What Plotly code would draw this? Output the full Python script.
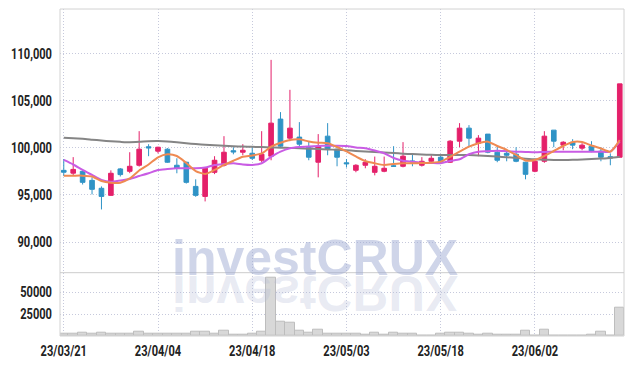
import plotly.graph_objects as go

dates = ["23/03/21","23/03/22","23/03/23","23/03/24","23/03/27","23/03/28","23/03/29","23/03/30","23/03/31",
         "23/04/03","23/04/04","23/04/05","23/04/06","23/04/07","23/04/10","23/04/11","23/04/12","23/04/13",
         "23/04/14","23/04/17","23/04/18","23/04/19","23/04/20","23/04/21","23/04/24","23/04/25","23/04/26",
         "23/04/27","23/04/28","23/05/02","23/05/03","23/05/04","23/05/08","23/05/09","23/05/10","23/05/11",
         "23/05/12","23/05/15","23/05/16","23/05/17","23/05/18","23/05/19","23/05/22","23/05/23","23/05/24",
         "23/05/25","23/05/26","23/05/30","23/05/31","23/06/01","23/06/02","23/06/05","23/06/07","23/06/08",
         "23/06/09","23/06/12","23/06/13","23/06/14","23/06/15","23/06/16"]

open_ = [97600, 97300, 97500, 96540, 95700, 94950, 97750, 97500, 98140, 100100,
         99630, 99840, 98140, 98460, 95900, 94840, 97390, 98140, 99680, 99520,
         99410, 98670, 99100, 103030, 101010, 101120, 100050, 98460, 101220, 99840,
         98400, 97610, 98140, 97390, 97500, 98080, 98030, 98600, 98140, 98560,
         98990, 98460, 100690, 102070, 100480, 101440, 99520, 99410, 99310, 98460,
         97500, 98560, 101860, 100270, 100580, 99950, 100160, 99630, 99050, 98990]
high = [98800, 99000, 97600, 96860, 95900, 97600, 97850, 99520, 101750, 100370,
        100100, 99950, 98880, 98500, 96650, 97900, 99100, 101220, 100050, 100370,
        100160, 101750, 109300, 103770, 106130, 102710, 100690, 101440, 102600, 99900,
        98800, 98250, 98780, 99060, 99060, 100160, 100590, 99300, 99000, 99200,
        99300, 100800, 102600, 102390, 101330, 101440, 100160, 99630, 100050, 98500,
        98600, 101750, 101860, 100690, 100900, 100480, 100690, 100050, 99400, 106760]
low = [97000, 97100, 96100, 95050, 93460, 94900, 96950, 97300, 98000, 99100,
       99400, 98400, 97290, 96200, 94800, 94310, 97200, 98000, 99300, 99200,
       98700, 98460, 98670, 100000, 100690, 99950, 98670, 96860, 99200, 98030,
       97900, 97400, 97820, 97070, 97400, 98000, 97920, 98030, 98000, 98400,
       98400, 98400, 100050, 100160, 99100, 99410, 98460, 98560, 98460, 96650,
       97400, 98400, 100050, 99730, 99840, 99730, 99520, 98560, 98140, 98990]
close = [97400, 97700, 96330, 95590, 94840, 97290, 97150, 98030, 99840, 99980,
         100050, 98460, 97820, 96330, 94950, 97820, 98670, 99520, 99550, 99730,
         98880, 99310, 102600, 100160, 102070, 100370, 98990, 100160, 99840, 98990,
         98300, 98140, 98460, 98030, 97820, 98030, 99100, 98500, 98560, 98880,
         98460, 100690, 102070, 101010, 101010, 99520, 98670, 99200, 98560, 97180,
         98560, 101220, 100690, 100580, 100270, 100270, 99630, 98990, 98900, 106760]

volume = [2600, 3000, 4200, 3000, 4200, 3000, 2300, 3000, 5300, 3000,
          3000, 2300, 2300, 3000, 5300, 5300, 3000, 6000, 1500, 1500,
          2600, 4900, 66300, 16300, 15100, 6000, 3800, 7200, 3000, 3000,
          3000, 2300, 1500, 3800, 1500, 3800, 3000, 2300, 700, 700,
          2500, 4000, 4000, 2600, 1500, 2600, 1300, 1300, 1300, 5700,
          700, 6800, 500, 500, 500, 500, 1300, 4500, 500, 31800]

ma_short = [97040, 97040, 97040, 96950, 96470, 96290, 96290, 96740, 97590, 98220,
            98980, 99300, 99120, 98380, 97530, 97220, 97640, 98170, 98620, 99050,
            99170, 99390, 100110, 100530, 100820, 100890, 100660, 100530, 100470, 100070,
            99600, 99070, 98590, 98350, 98170, 98270, 98350, 98350, 98380, 98410,
            98520, 99020, 99580, 100110, 100470, 100640, 100180, 99760, 99230, 98650,
            98700, 99120, 99650, 100180, 100600, 100600, 100230, 99920, 99580, 100800]
ma_mid = [98700, 98220, 97640, 97110, 96580, 96400, 96530, 96690, 97000, 97290,
          97640, 97740, 97820, 97820, 97820, 97900, 98170, 98270, 98350, 98220,
          98170, 98350, 99020, 99580, 99940, 100070, 100130, 100180, 100210, 100210,
          100180, 100020, 99940, 99700, 99410, 98910, 98620, 98520, 98410, 98380,
          98350, 98590, 98770, 99300, 99580, 99630, 99680, 99630, 99580, 99550,
          99510, 99550, 99580, 99580, 99580, 99580, 99580, 99580, 99580, 100640]
ma_long = [101060, 101000, 100940, 100850, 100760, 100680, 100620, 100580, 100620, 100680,
           100700, 100660, 100580, 100480, 100380, 100300, 100250, 100200, 100150, 100120,
           100090, 100060, 100030, 100000, 99970, 99940, 99900, 99860, 99820, 99770,
           99720, 99660, 99600, 99540, 99480, 99430, 99370, 99320, 99280, 99250,
           99230, 99230, 99230, 99220, 99180, 99130, 99060, 98990, 98920, 98840,
           98770, 98730, 98700, 98700, 98710, 98740, 98790, 98850, 98920, 99050]

price_ticks = [90000, 95000, 100000, 105000, 110000]
volume_ticks = [25000, 50000]
date_ticks = dates[::10]

UP = "#e4206a"
DOWN = "#2f93c6"
GRID = "#c6c9dc"
DOTS = "1px,2px"
FONT = "Roboto"
SPLIT = 0.1936

fig = go.Figure()
fig.add_trace(go.Candlestick(
    x=dates, open=open_, high=high, low=low, close=close,
    increasing=dict(line=dict(color=UP, width=1), fillcolor=UP),
    decreasing=dict(line=dict(color=DOWN, width=1), fillcolor=DOWN),
    whiskerwidth=0, xaxis="x", yaxis="y", showlegend=False, hoverinfo="skip"))
for vals, col in [(ma_long, "#858585"), (ma_mid, "#c95ce4"), (ma_short, "#ef8a52")]:
    fig.add_trace(go.Scatter(x=dates, y=vals, mode="lines",
                             line=dict(color=col, width=2, shape="spline", smoothing=0.6),
                             xaxis="x", yaxis="y", showlegend=False, hoverinfo="skip"))
fig.add_trace(go.Bar(x=dates, y=volume, marker=dict(color="#d8d8d8", line=dict(color="#bdbdbd", width=1)),
                     xaxis="x2", yaxis="y2", showlegend=False, hoverinfo="skip"))

axis_x = dict(type="category", categoryorder="array", categoryarray=dates,
              range=[-0.4, 59.45], tickvals=date_ticks, showgrid=True, gridcolor=GRID,
              griddash=DOTS, gridwidth=1, showline=False, zeroline=False, ticks="",
              fixedrange=True, automargin=False)
fig.update_layout(
    width=634, height=366,
    margin=dict(l=60, r=10, t=9, b=30),
    paper_bgcolor="white", plot_bgcolor="white",
    font=dict(family=FONT, size=15, color="#222222", weight=700),
    bargap=0,
    xaxis=dict(axis_x, anchor="y", showticklabels=False, rangeslider=dict(visible=False)),
    xaxis2=dict(axis_x, anchor="y2", matches="x", showticklabels=True, ticktext=date_ticks,
                ticklabelstandoff=4),
    yaxis=dict(domain=[SPLIT, 1], range=[86760, 114690], tickvals=price_ticks, tickformat=",d",
               showgrid=True, gridcolor=GRID, griddash=DOTS, zeroline=False, ticks="",
               ticklabelstandoff=7, automargin=False),
    yaxis2=dict(domain=[0, SPLIT], range=[0, 72000], tickvals=volume_ticks, tickformat="d",
                showgrid=True, gridcolor=GRID, griddash=DOTS, zeroline=False, ticks="",
                ticklabelstandoff=7, automargin=False),
    shapes=[
        dict(type="rect", xref="paper", yref="paper", x0=0, x1=1, y0=0, y1=1,
             line=dict(color="#d2d2d2", width=1), layer="above"),
        dict(type="line", xref="paper", yref="paper", x0=0, x1=1, y0=SPLIT, y1=SPLIT,
             line=dict(color="#cccccc", width=1), layer="above"),
    ],
    annotations=[
        dict(text="<b>investCRUX</b>", xref="paper", yref="paper", x=0.452, y=SPLIT - 0.046,
             yanchor="bottom", showarrow=False,
             font=dict(family="Liberation Sans", size=50, color="rgba(160,172,212,0.5)", weight=700)),
        dict(text="<b>investCRUX</b>", xref="paper", yref="paper", x=0.452, y=SPLIT + 0.03,
             yanchor="top", showarrow=False,
             font=dict(family="Liberation Sans", size=50, color="rgba(180,186,214,0.3)", weight=700)),
    ],
)

post = """
var gd = document.getElementById('{plot_id}');
var ts = gd.querySelectorAll('g.annotation text.annotation-text');
if (ts.length > 1) {
  var t = ts[1];
  t.style.transformBox = 'fill-box';
  t.style.transformOrigin = 'center';
  t.style.transform = 'scaleY(-1)';
}
var labs = gd.querySelectorAll('.xtick text, .ytick text, .x2tick text, .y2tick text');
labs.forEach(function(el) {
  var cx = parseFloat(el.getAttribute('x')) || 0;
  var tr = el.getAttribute('transform') || '';
  el.setAttribute('transform', tr + ' translate(' + cx + ',0) scale(0.74,1) translate(' + (-cx) + ',0)');
});
"""
fig.write_html("out.html", post_script=post)
